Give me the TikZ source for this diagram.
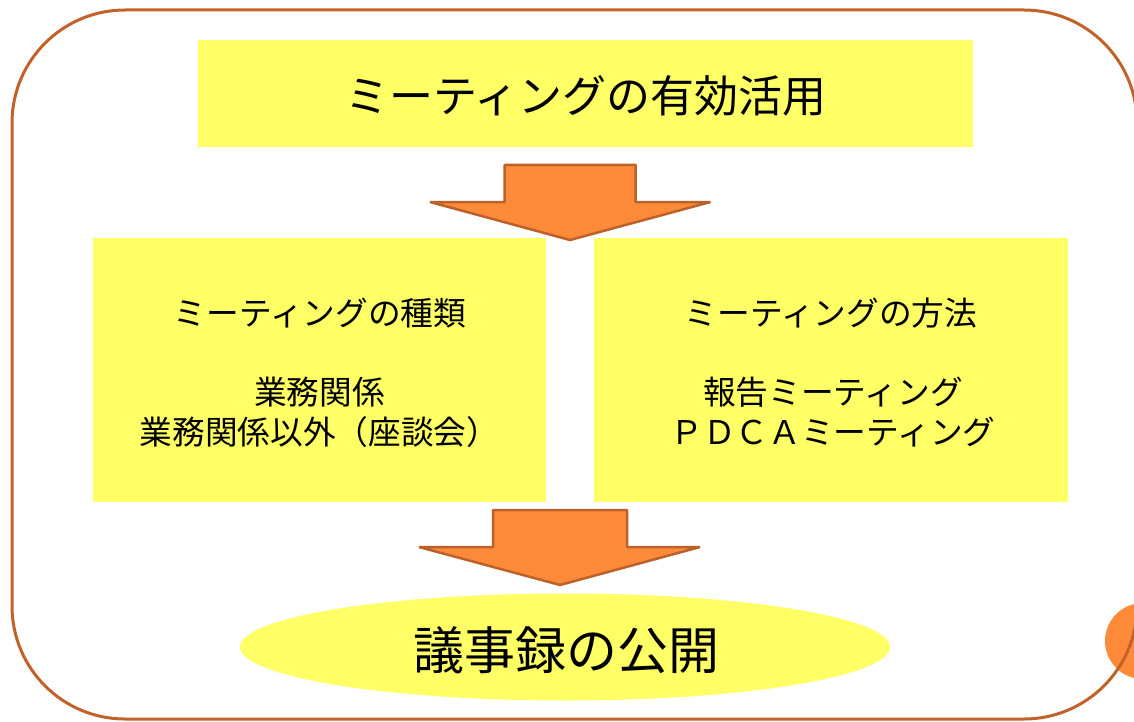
\documentclass[tikz,border=0pt]{standalone}
\usepackage{fontspec}
\newfontfamily\jp{Noto Sans CJK JP}
\usetikzlibrary{shapes.geometric}
\definecolor{boxyellow}{HTML}{FFFF66}
\definecolor{arroworange}{HTML}{FD8A38}
\definecolor{arrowedge}{HTML}{BC612A}
\definecolor{framebrown}{HTML}{C0622A}
\tikzset{
  box/.style={fill=boxyellow, draw=none, inner sep=0pt},
  label/.style={inner sep=0pt, text=black, font=\jp},
  blockarrow/.style={fill=arroworange, draw=arrowedge, line width=2.5pt, line join=bevel},
}
\begin{document}
\begin{tikzpicture}[x=1pt,y=-1pt]
\useasboundingbox (0,0) rectangle (1134,722);
\clip (0,0) rectangle (1134,722);
% decorative circle at right edge
\fill[arroworange] (1143,641) circle (38pt);
% outer frame
\draw[framebrown, line width=3pt, rounded corners=113pt] (12,10) rectangle (1137,719);
% top box
\node[box, minimum width=775pt, minimum height=107pt] (topbox) at (585.5,93.5) {};
\node[label, font=\jp\fontsize{44pt}{53pt}\selectfont] (toptext) at (586,96) {ミーティングの有効活用};
% middle boxes
\node[box, minimum width=453pt, minimum height=264pt] (leftbox) at (319.5,370) {};
\node[box, minimum width=474pt, minimum height=264pt] (rightbox) at (831,370) {};
\node[label, font=\jp\fontsize{32.7pt}{40pt}\selectfont] (lefttitle) at (320,313) {ミーティングの種類};
\node[label, align=center, font=\jp\fontsize{32.7pt}{40pt}\selectfont] (lefttext) at (319.5,412) {業務関係\\業務関係以外（座談会）};
\node[label, font=\jp\fontsize{32.7pt}{40pt}\selectfont] (righttitle) at (831,313) {ミーティングの方法};
\node[label, align=center, font=\jp\fontsize{32.7pt}{40pt}\selectfont] (righttext) at (833,412) {報告ミーティング\\ＰＤＣＡミーティング};
% bottom ellipse
\node[ellipse, fill=boxyellow, draw=none, minimum width=650pt, minimum height=107pt, inner sep=0pt] (pub) at (565,647) {};
\node[label, font=\jp\fontsize{51pt}{60pt}\selectfont] (pubtext) at (566,650) {議事録の公開};
% block arrows
\coordinate (a1) at (570,165);
\draw[blockarrow] (a1) ++(-65.5,0) -- ++(131,0) -- ++(0,37) -- ++(75,0) -- (570,240) -- (430,202) -- (504.5,202) -- cycle;
\coordinate (a2) at (560,510);
\draw[blockarrow] (a2) ++(-67,0) -- ++(134,0) -- ++(0,37) -- ++(73,0) -- (560,585) -- (419,547) -- (493,547) -- cycle;
\end{tikzpicture}
\end{document}
